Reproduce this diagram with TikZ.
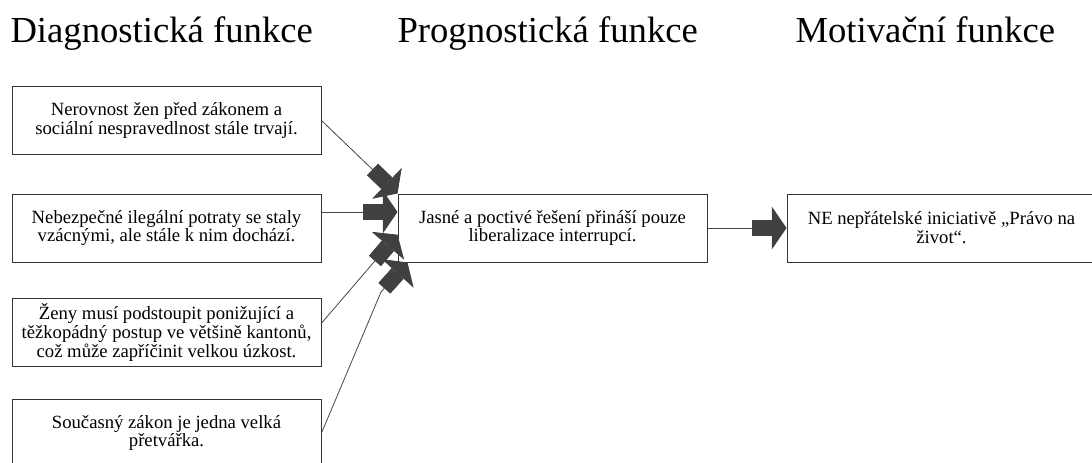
\documentclass[tikz,border=0pt]{standalone}
\usepackage{fontspec}
\setmainfont{Liberation Serif}
\usepackage{tikz}
\usetikzlibrary{arrows.meta}
\usepackage{xcolor}
\definecolor{linegray}{RGB}{70,70,70}
\definecolor{tipgray}{RGB}{64,64,64}
\tikzset{every picture/.style={line width=0.75pt}}
\tikzset{
  framebox/.style={draw=black!80, line width=0.75pt, fill=white, minimum width=231.75pt, minimum height=51pt,
    align=center, inner sep=2pt, font=\fontsize{14pt}{14.2pt}\selectfont},
  heading/.style={anchor=base west, inner sep=0pt, font=\fontsize{27.5pt}{33pt}\selectfont},
  blockarrow/.style={draw=linegray, line width=0.6pt,
    -{Rectangle[length=15pt,width=12pt,sep=0pt,color=tipgray]Triangle[length=11pt,width=32pt,color=tipgray]}}
}

\begin{document}
\begin{tikzpicture}[x=0.75pt,y=0.75pt,yscale=-1,xscale=1]
\useasboundingbox (0,0) rectangle (1092,462);
\clip (0,0) rectangle (1092,462);

% Text Node
\node[heading] (hdiag) at (10,42) {Diagnostická funkce};
% Text Node
\node[heading] (hprog) at (397,42) {Prognostická funkce};
% Text Node
\node[heading] (hmot) at (795,42) {Motivační funkce};

%Shape: Rectangle
\node[framebox] (diag1) at (166.5,120.5) {Nerovnost žen před zákonem a\\ sociální nespravedlnost stále trvají.};
%Shape: Rectangle
\node[framebox] (diag2) at (166.5,228) {Nebezpečné ilegální potraty se staly\\ vzácnými, ale stále k nim dochází.};
%Shape: Rectangle
\node[framebox] (diag3) at (166.5,332.5) {Ženy musí podstoupit ponižující a\\ těžkopádný postup ve většině kantonů,\\ což může zapříčinit velkou úzkost.};
%Shape: Rectangle
\node[framebox] (diag4) at (166.5,433) {Současný zákon je jedna velká\\ přetvářka.};

%Shape: Rectangle
\node[framebox] (prog) at (552.5,228) {Jasné a poctivé řešení přináší pouze\\ liberalizace interrupcí.};
%Shape: Rectangle
\node[framebox] (mot) at (941.5,228) {NE nepřátelské iniciativě „Právo na\\ život“.};

%Straight Lines
\draw[blockarrow] (diag1.east) -- (prog.north west);
%Straight Lines
\draw[blockarrow] ([yshift=-12pt]diag2.east) -- ([yshift=-12pt]prog.west);
%Straight Lines
\draw[blockarrow] ([yshift=-7pt]diag3.east) -- ([yshift=5pt]prog.west);
%Straight Lines
\coordinate (bend4) at (381,292);
\draw[blockarrow] (diag4.east) -- (bend4) -- ([xshift=7.5pt]prog.south west);
%Straight Lines
\draw[blockarrow] (prog.east) -- (mot.west);

\end{tikzpicture}
\end{document}
